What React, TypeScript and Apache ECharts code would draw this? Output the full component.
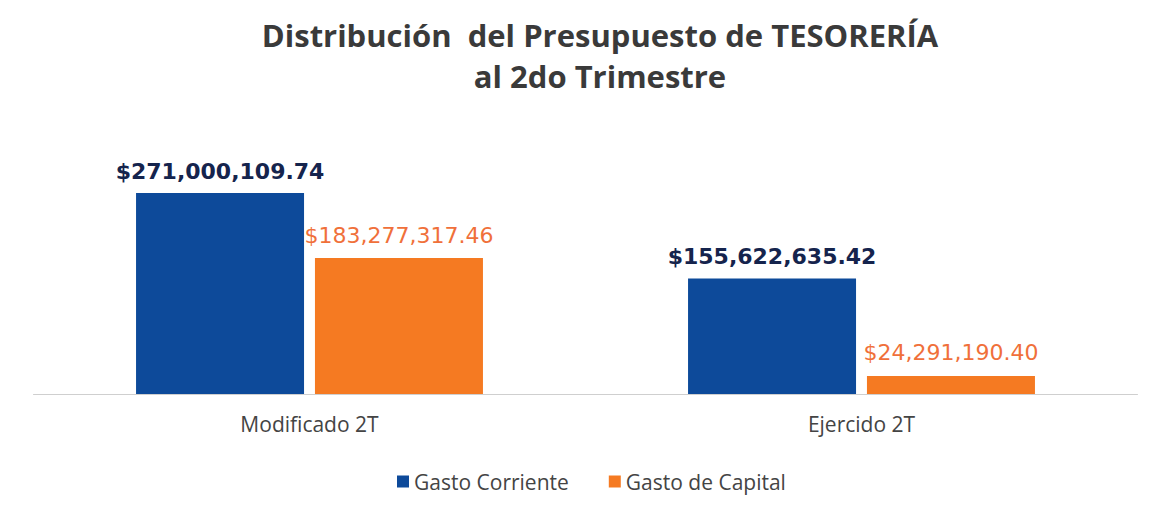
import React, { useEffect, useRef } from "react";
import * as echarts from "echarts";

const categories = ["Modificado 2T", "Ejercido 2T"];
const gastoCorriente = [271000109.74, 155622635.42];
const gastoCapital = [183277317.46, 24291190.4];
const seriesNames = ["Gasto Corriente", "Gasto de Capital"];

const fmt = (v: number) =>
  "$" +
  v.toLocaleString("en-US", { minimumFractionDigits: 2, maximumFractionDigits: 2 });

export default function App() {
  const ref = useRef<HTMLDivElement>(null);
  useEffect(() => {
    const chart = echarts.init(ref.current!, null, { renderer: "svg" });
    chart.setOption({
      animation: false,
      backgroundColor: "#ffffff",
      title: {
        text: "Distribución  del Presupuesto de TESORERÍA\nal 2do Trimestre",
        left: 600,
        textAlign: "center",
        top: 14,
        padding: 0,
        textStyle: {
          fontFamily: "Open Sans",
          fontWeight: "bold",
          fontSize: 31,
          lineHeight: 41,
          color: "#3a3a3a",
        },
      },
      legend: {
        data: seriesNames,
        top: 466,
        left: 392,
        itemWidth: 12,
        itemHeight: 12,
        itemGap: 40,
        icon: "rect",
        textStyle: { fontFamily: "Open Sans", fontSize: 21, color: "#444444" },
      },
      grid: { left: 33.5, right: 22.5, top: 171.5, bottom: 125 },
      xAxis: {
        type: "category",
        data: categories,
        axisLine: { lineStyle: { color: "#cfcfcf", width: 1 } },
        axisTick: { show: false },
        axisLabel: {
          fontFamily: "Open Sans",
          fontSize: 21,
          color: "#444444",
          margin: 19,
        },
      },
      yAxis: {
        type: "value",
        min: 0,
        max: 300000000,
        show: false,
        splitLine: { show: false },
      },
      series: [
        {
          name: seriesNames[0],
          type: "bar",
          data: gastoCorriente,
          barWidth: 168,
          barGap: "6.5%",
          itemStyle: { color: "#0d4a9a" },
          label: {
            show: true,
            position: "top",
            distance: 11,
            formatter: (p: any) => fmt(p.value),
            fontFamily: "DejaVu Sans",
            fontWeight: "bold",
            fontSize: 22,
            color: "#15244d",
          },
        },
        {
          name: seriesNames[1],
          type: "bar",
          data: gastoCapital,
          barWidth: 168,
          itemStyle: { color: "#f57a22" },
          label: {
            show: true,
            position: "top",
            distance: 12,
            formatter: (p: any) => fmt(p.value),
            fontFamily: "DejaVu Sans",
            fontSize: 22,
            color: "#f0703a",
          },
        },
      ],
    });
    return () => chart.dispose();
  }, []);
  return (
    <div
      ref={ref}
      style={{ position: "fixed", left: 0, top: 0, width: 1160, height: 519 }}
    />
  );
}
